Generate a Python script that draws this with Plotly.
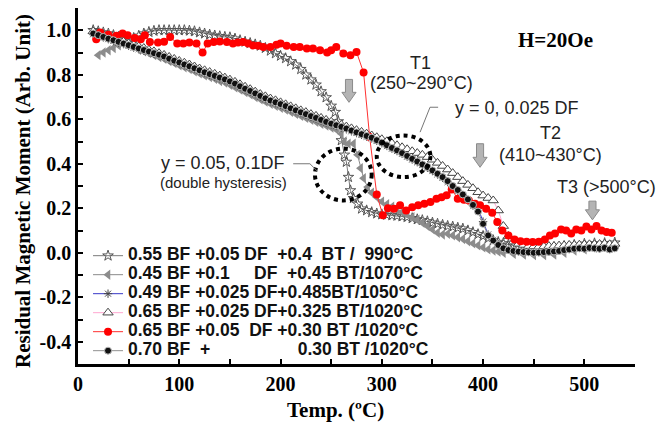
import plotly.graph_objects as go

# ---------------- data ----------------
T_main = [15, 20, 25, 30, 35, 40, 45, 50, 55, 60, 65, 70, 75, 80, 85, 90, 95, 100, 105, 110,
          115, 120, 125, 130, 135, 140, 145, 150, 155, 160, 165, 170, 175, 180, 185, 190, 195, 200, 205, 210,
          215, 220, 225, 230, 235, 240, 245, 250, 255, 260, 265, 270, 275, 280, 285, 290, 295, 300, 305, 310,
          315, 320, 325, 330, 335, 340, 345, 350, 355, 360, 365, 370, 375, 380, 385, 390, 395, 400, 405, 410,
          415, 420, 425, 430, 435, 440, 445, 450, 455, 460, 465, 470, 475, 480, 485, 490, 495, 500, 505, 510,
          515, 520, 525, 530]

# 0.70 BF + 0.30 BT / 1020C
M_s6 = [0.985, 0.978, 0.970, 0.962, 0.955, 0.948, 0.940, 0.933, 0.925, 0.918,
        0.911, 0.904, 0.897, 0.890, 0.882, 0.872, 0.863, 0.855, 0.846, 0.838,
        0.829, 0.820, 0.811, 0.803, 0.795, 0.787, 0.779, 0.770, 0.760, 0.748,
        0.737, 0.727, 0.716, 0.705, 0.694, 0.684, 0.676, 0.668, 0.659, 0.649,
        0.640, 0.631, 0.623, 0.614, 0.606, 0.597, 0.588, 0.580, 0.573, 0.566,
        0.558, 0.549, 0.541, 0.533, 0.525, 0.517, 0.506, 0.495, 0.483, 0.471,
        0.460, 0.448, 0.435, 0.422, 0.410, 0.397, 0.385, 0.370, 0.355, 0.340,
        0.322, 0.300, 0.282, 0.262, 0.240, 0.215, 0.185, 0.130, 0.078, 0.055,
        0.035, 0.020, 0.012, 0.008, 0.005, 0.003, 0.002, 0.000, 0.001, 0.003,
        0.004, 0.006, 0.008, 0.012, 0.015, 0.018, 0.020, 0.018, 0.022, 0.020,
        0.018, 0.022, 0.015, 0.020]

# 0.65 BF + 0.025 DF + 0.325 BT / 1020C
M_s4 = [0.995, 0.988, 0.980, 0.972, 0.964, 0.957, 0.949, 0.941, 0.934, 0.927,
        0.920, 0.912, 0.905, 0.897, 0.889, 0.880, 0.871, 0.862, 0.854, 0.846,
        0.837, 0.828, 0.820, 0.812, 0.804, 0.796, 0.787, 0.778, 0.768, 0.757,
        0.746, 0.735, 0.724, 0.713, 0.703, 0.693, 0.685, 0.676, 0.667, 0.658,
        0.649, 0.640, 0.632, 0.623, 0.615, 0.606, 0.597, 0.589, 0.582, 0.575,
        0.567, 0.559, 0.551, 0.543, 0.535, 0.527, 0.519, 0.510, 0.501, 0.492,
        0.483, 0.474, 0.465, 0.456, 0.448, 0.440, 0.430, 0.418, 0.404, 0.390,
        0.374, 0.358, 0.340, 0.322, 0.305, 0.290, 0.272, 0.257, 0.246, 0.235,
        0.190, 0.120, 0.075, 0.050, 0.040, 0.035, 0.030, 0.028, 0.027, 0.028,
        0.030, 0.030, 0.032, 0.033, 0.035, 0.035, 0.036, 0.037, 0.038, 0.038,
        0.039, 0.040, 0.038, 0.040]

# 0.49 BF + 0.025 DF + 0.485 BT / 1050C
M_s3 = [0.982, 0.975, 0.968, 0.960, 0.952, 0.945, 0.938, 0.930, 0.922, 0.915,
        0.908, 0.901, 0.894, 0.887, 0.879, 0.869, 0.860, 0.852, 0.843, 0.835,
        0.826, 0.817, 0.808, 0.800, 0.792, 0.784, 0.776, 0.767, 0.757, 0.745,
        0.734, 0.724, 0.713, 0.702, 0.691, 0.681, 0.673, 0.665, 0.656, 0.646,
        0.637, 0.628, 0.620, 0.611, 0.603, 0.594, 0.585, 0.577, 0.570, 0.563,
        0.555, 0.546, 0.538, 0.530, 0.522, 0.514, 0.503, 0.492, 0.480, 0.468,
        0.457, 0.445, 0.432, 0.419, 0.407, 0.394, 0.382, 0.367, 0.352, 0.337,
        0.318, 0.297, 0.278, 0.258, 0.236, 0.212, 0.200, 0.140, 0.082, 0.058,
        0.038, 0.022, 0.014, 0.010, 0.007, 0.005, 0.004, 0.002, 0.003, 0.005,
        0.006, 0.008, 0.010, 0.014, 0.017, 0.020, 0.022, 0.020, 0.024, 0.022,
        0.020, 0.024, 0.017, 0.022]

# 0.55 BF + 0.05 DF + 0.4 BT / 990C
T_s1 = [15, 20, 25, 30, 35, 40, 45, 50, 55, 60, 65, 70, 75, 80, 85, 90, 95, 100, 105, 110,
        115, 120, 125, 130, 135, 140, 145, 150, 155, 160, 165, 170, 175, 180, 185, 190, 195, 200, 205, 210,
        215, 220, 225, 230, 235, 240, 245, 250, 254, 257, 260, 263, 265, 267, 269, 272, 276, 280,
        285, 290, 295, 300, 305, 310, 315, 320, 325, 330, 335, 340, 345, 350, 355, 360, 365, 370, 375, 380,
        385, 390, 395, 400, 405, 410, 415, 420, 425, 430, 440, 450, 460, 470, 480, 490, 500, 510, 520, 530]
M_s1 = [1.000, 0.995, 0.990, 0.985, 0.978, 0.970, 0.965, 0.962, 0.965, 0.975,
        0.985, 0.992, 0.997, 1.000, 1.000, 1.000, 1.000, 1.000, 1.000, 0.998,
        0.995, 0.990, 0.985, 0.980, 0.976, 0.973, 0.970, 0.968, 0.962, 0.955,
        0.948, 0.942, 0.936, 0.930, 0.920, 0.908, 0.896, 0.885, 0.874, 0.860,
        0.845, 0.825, 0.800, 0.778, 0.755, 0.725, 0.698, 0.660,
        0.632, 0.590, 0.505, 0.440, 0.408, 0.340, 0.280, 0.245, 0.220, 0.198,
        0.190, 0.182, 0.176, 0.172, 0.170, 0.168, 0.166, 0.163, 0.160, 0.155,
        0.150, 0.146, 0.141, 0.135, 0.130, 0.125, 0.120, 0.117, 0.112, 0.108,
        0.100, 0.092, 0.083, 0.075, 0.065, 0.056, 0.048, 0.042, 0.036, 0.032,
        0.027, 0.024, 0.022, 0.025, 0.030, 0.035, 0.040, 0.042, 0.043, 0.045]

# 0.45 BF + 0.1 DF + 0.45 BT / 1070C
T_s2 = [20, 25, 30, 35, 40, 45, 50, 55, 60, 65, 70, 75, 80, 85, 90, 95, 100, 105, 110, 115,
        120, 125, 130, 135, 140, 145, 150, 155, 160, 165, 170, 175, 180, 185, 190, 195, 200, 205, 210, 215,
        220, 225, 230, 235, 240, 245, 250, 255, 260, 263, 267, 272, 276, 279, 282, 286,
        290, 295, 300, 305, 310, 315, 320, 325, 330, 335, 340, 345, 350, 355, 360, 365, 370, 375, 380, 385,
        390, 395, 400, 405, 410, 415, 420, 430, 440, 450, 460, 470, 480, 490, 500, 510, 520, 530]
M_s2 = [0.888, 0.900, 0.910, 0.920, 0.932, 0.942, 0.948, 0.935, 0.912, 0.905,
        0.897, 0.889, 0.880, 0.872, 0.862, 0.853, 0.843, 0.834, 0.826, 0.816,
        0.806, 0.797, 0.790, 0.782, 0.772, 0.765, 0.755, 0.744, 0.733, 0.722,
        0.712, 0.700, 0.690, 0.679, 0.670, 0.661, 0.652, 0.644, 0.634, 0.624,
        0.615, 0.606, 0.598, 0.589, 0.580, 0.572, 0.563, 0.554,
        0.535, 0.500, 0.490, 0.490, 0.440, 0.380, 0.335, 0.295,
        0.270, 0.250, 0.230, 0.218, 0.207, 0.195, 0.183, 0.172, 0.160, 0.148,
        0.135, 0.120, 0.105, 0.090, 0.082, 0.085, 0.078, 0.070, 0.062, 0.052,
        0.042, 0.033, 0.024, 0.015, 0.010, 0.005, 0.000,
        -0.005, -0.008, -0.010, -0.010, -0.008, 0.000, 0.010, 0.015, 0.022, 0.028, 0.030]

# 0.65 BF + 0.05 DF + 0.30 BT / 1020C
T_s5 = [18, 22, 30, 38, 44, 49, 56, 62, 66, 71, 79, 85, 91, 98, 104, 110, 117, 123, 128, 134,
        140, 147, 153, 158, 163, 168, 173, 178, 183, 190, 196, 200, 206, 213, 219, 226, 232, 239, 246, 250,
        255, 262, 269, 275, 282, 288, 295, 301, 306, 312, 318, 324, 330, 336, 342, 348, 354, 359, 364, 369,
        375, 381, 386, 392, 397, 403, 409, 414, 419, 425, 431, 437, 443, 449, 455, 461, 466, 471, 477, 482,
        487, 492, 497, 502, 507, 512, 517, 522, 527]
M_s5 = [0.96, 0.99, 0.98, 0.975, 0.985, 0.977, 0.965, 0.96, 0.977, 0.947,
        0.945, 0.948, 0.97, 0.94, 0.94, 0.945, 0.94, 0.90, 0.94, 0.947,
        0.95, 0.947, 0.94, 0.945, 0.947, 0.94, 0.932, 0.93, 0.925, 0.925,
        0.935, 0.94, 0.93, 0.925, 0.925, 0.918, 0.918, 0.91, 0.90, 0.91,
        0.925, 0.895, 0.888, 0.902, 0.81, 0.52, 0.262, 0.168, 0.20, 0.198,
        0.213, 0.19, 0.205, 0.213, 0.22, 0.228, 0.243, 0.25, 0.258, 0.284,
        0.243, 0.238, 0.235, 0.22, 0.213, 0.198, 0.18, 0.138, 0.10, 0.078,
        0.06, 0.052, 0.05, 0.048, 0.05, 0.06, 0.078, 0.087, 0.105, 0.10,
        0.087, 0.105, 0.10, 0.118, 0.105, 0.12, 0.10, 0.093, 0.09]

legend_names = [
    "0.55 BF +0.05 DF\u00a0\u00a0+0.4\u00a0\u00a0BT /\u00a0\u00a0990\u00b0C",
    "0.45 BF +0.1\u00a0\u00a0\u00a0\u00a0\u00a0DF\u00a0\u00a0+0.45 BT/1070\u00b0C",
    "0.49 BF +0.025 DF+0.485BT/1050\u00b0C",
    "0.65 BF +0.025 DF+0.325 BT/1020\u00b0C",
    "0.65 BF +0.05\u00a0\u00a0DF +0.30 BT /1020\u00b0C",
    "0.70 BF\u00a0\u00a0+\u00a0\u00a0\u00a0\u00a0\u00a0\u00a0\u00a0\u00a0\u00a0\u00a0\u00a0\u00a0\u00a0\u00a0\u00a0\u00a0\u00a0\u00a00.30 BT /1020\u00b0C",
]

x_tickvals = [0, 100, 200, 300, 400, 500]
y_tickvals = [-0.4, -0.2, 0.0, 0.2, 0.4, 0.6, 0.8, 1.0]
y_ticktext = ["-0.4", "-0.2", "0.0", "0.2", "0.4", "0.6", "0.8", "1.0"]

# ---------------- figure ----------------
def lg(name):
    return '<span style="font-size:17.5px">' + name + '</span>'

fig = go.Figure()
fig.add_trace(go.Scatter(x=T_s1, y=M_s1, mode="lines+markers", name=lg(legend_names[0]),
                         line=dict(color="#7a7a7a", width=1),
                         marker=dict(symbol="star-open", size=8, color="#555555", line=dict(width=1))))
fig.add_trace(go.Scatter(x=T_s2, y=M_s2, mode="lines+markers", name=lg(legend_names[1]),
                         line=dict(color="#8a8a8a", width=1),
                         marker=dict(symbol="triangle-left", size=9, color="#8c8c8c", line=dict(width=0))))
fig.add_trace(go.Scatter(x=T_main, y=M_s3, mode="lines+markers", name=lg(legend_names[2]),
                         line=dict(color="#3838c8", width=1),
                         marker=dict(symbol="asterisk-open", size=7, color="#444444", line=dict(width=1, color="#444444"))))
fig.add_trace(go.Scatter(x=T_main, y=M_s4, mode="lines+markers", name=lg(legend_names[3]),
                         line=dict(color="#ffa6d0", width=1),
                         marker=dict(symbol="triangle-up", size=9, color="white", line=dict(width=1, color="#444444"))))
fig.add_trace(go.Scatter(x=T_s5, y=M_s5, mode="lines+markers", name=lg(legend_names[4]),
                         line=dict(color="#ff3030", width=1),
                         marker=dict(symbol="circle", size=8, color="#ff0000", line=dict(width=0))))
fig.add_trace(go.Scatter(x=T_main, y=M_s6, mode="lines+markers", name=lg(legend_names[5]),
                         line=dict(color="#909090", width=1),
                         marker=dict(symbol="circle", size=7, color="#111111", line=dict(width=1, color="#bbbbbb"))))

serif = "Liberation Serif"
sans = "Liberation Sans"

# the page body adds an 8px margin; size and margins compensate for it
fig.update_layout(
    width=657, height=414,
    margin=dict(l=70, r=30, t=0, b=58),
    paper_bgcolor="white", plot_bgcolor="white",
    showlegend=True,
    legend=dict(x=0.018, y=0.345, xanchor="left", yanchor="top",
                bgcolor="rgba(0,0,0,0)", borderwidth=0,
                font=dict(family=sans, size=12, color="#111111", weight="bold"),
                tracegroupgap=0),
    xaxis=dict(range=[0, 550], showgrid=False, zeroline=False, showline=True, linecolor="black",
               linewidth=2.5, ticks="inside", ticklen=5, tickwidth=2, tickcolor="black",
               tickvals=x_tickvals, ticklabelstandoff=0,
               minor=dict(dtick=50, ticks="inside", ticklen=5, tickwidth=2, tickcolor="black"),
               tickfont=dict(family=serif, size=20, color="black", weight="bold")),
    yaxis=dict(range=[-0.5, 1.1], showgrid=False, zeroline=False, showline=True, linecolor="black",
               linewidth=2.5, ticks="inside", ticklen=5, tickwidth=2, tickcolor="black",
               tickvals=y_tickvals, ticktext=y_ticktext,
               minor=dict(dtick=0.1, tick0=0, ticks="inside", ticklen=5, tickwidth=2, tickcolor="black"),
               tickfont=dict(family=serif, size=20, color="black", weight="bold")),
)

# axis titles
fig.add_annotation(text="Residual Magnetic Moment (Arb. Unit)", xref="paper", yref="paper",
                   x=0, y=0.5, xshift=-55, yshift=-5, textangle=-90, showarrow=False,
                   xanchor="center", yanchor="middle",
                   font=dict(family=serif, size=21, color="black", weight="bold"))
fig.add_annotation(text="Temp. (\u00baC)", xref="paper", yref="paper", x=0.463, y=0, yshift=-46,
                   showarrow=False, xanchor="center", yanchor="middle",
                   font=dict(family=serif, size=21, color="black", weight="bold"))

# text annotations
ann_font = dict(family=sans, size=18, color="#222222")
texts = [
    ("H=20Oe", 471.6, 0.955, dict(family=serif, size=21, color="black", weight="bold")),
    ("T1", 337.7, 0.852, ann_font),
    ("(250~290\u00b0C)", 338.7, 0.762, ann_font),
    ("y = 0, 0.025 DF", 433.1, 0.649, ann_font),
    ("T2", 466.2, 0.536, ann_font),
    ("(410~430\u00b0C)", 466.2, 0.438, ann_font),
    ("T3 (>500\u00b0C)", 521.5, 0.294, ann_font),
    ("y = 0.05, 0.1DF", 143.6, 0.402, ann_font),
    ("(double hysteresis)", 144.0, 0.316, dict(family=sans, size=15, color="#222222")),
]
for t, xx, yy, f in texts:
    fig.add_annotation(text=t, x=xx, y=yy, xref="x", yref="y", showarrow=False,
                       xanchor="center", yanchor="middle", font=f)

# block arrows
def arrow_path(xc, ytop, ybot):
    hw, sw, hh = 7.0, 3.5, 0.045
    yh = ybot + hh
    return (f"M {xc-sw},{ytop} L {xc+sw},{ytop} L {xc+sw},{yh} L {xc+hw},{yh} "
            f"L {xc},{ybot} L {xc-hw},{yh} L {xc-sw},{yh} Z")

for xc, yt, yb in [(267.6, 0.779, 0.676), (397.0, 0.49, 0.384), (508.0, 0.232, 0.148)]:
    fig.add_shape(type="path", path=arrow_path(xc, yt, yb), xref="x", yref="y",
                  fillcolor="#b4b4b4", line=dict(color="#8a8a8a", width=1))

# dotted circles
fig.add_shape(type="circle", xref="x", yref="y", x0=295, x1=348, y0=0.34, y1=0.527,
              line=dict(color="black", width=4, dash="dot"))
fig.add_shape(type="circle", xref="x", yref="y", x0=234, x1=290, y0=0.235, y1=0.468,
              line=dict(color="black", width=4, dash="dot"))

# leader lines
fig.add_shape(type="path", xref="x", yref="y", path="M 355.6,0.654 L 347.6,0.654 L 337.8,0.542",
              line=dict(color="#777777", width=1))
fig.add_shape(type="path", xref="x", yref="y", path="M 212.5,0.40 L 229,0.40 L 236.3,0.367",
              line=dict(color="#777777", width=1))

fig.write_html("out.html")
